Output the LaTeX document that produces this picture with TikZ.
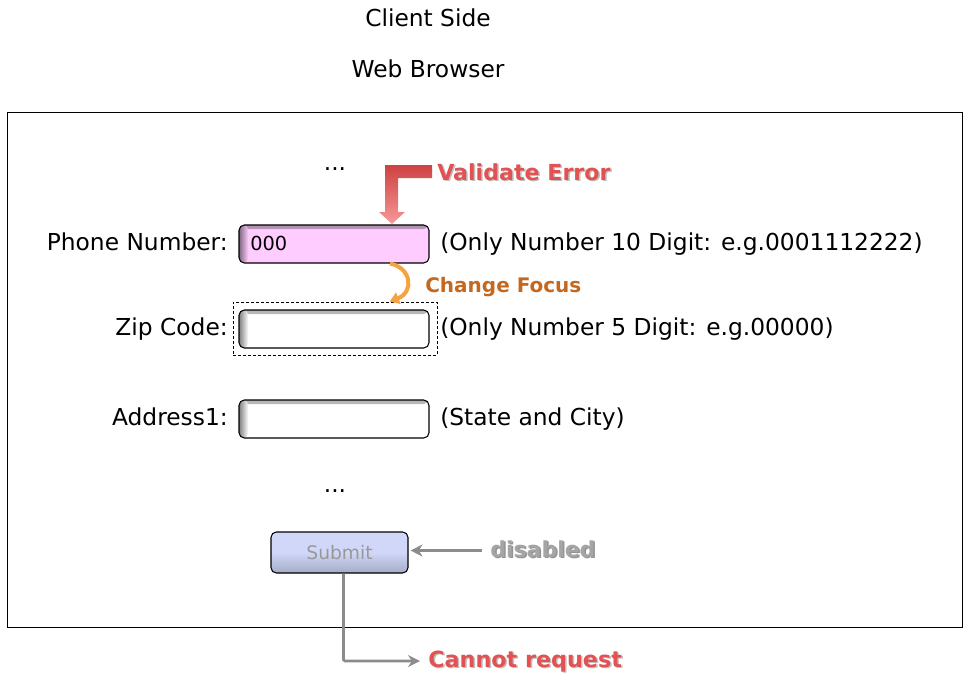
\documentclass[tikz,border=0pt]{standalone}
\usepackage{fontspec}
\setmainfont{DejaVu Sans}
\usetikzlibrary{arrows.meta,positioning}

\definecolor{errred}{RGB}{226,82,82}
\definecolor{errdark}{RGB}{206,66,66}
\definecolor{errlight}{RGB}{246,152,152}
\definecolor{focusbrown}{RGB}{196,104,32}
\definecolor{focusorange}{RGB}{245,162,64}
\definecolor{disgray}{RGB}{165,165,165}
\definecolor{pinkbox}{RGB}{255,204,255}
\definecolor{btntop}{RGB}{208,215,248}
\definecolor{btnbot}{RGB}{165,172,196}

\tikzset{
  lbl/.style={font=\fontsize{17.5}{20}\selectfont, inner sep=0pt},
  bold/.style={font=\fontsize{#1}{20}\selectfont\bfseries, inner sep=0pt},
  field/.style={draw=black, line width=.8pt, rounded corners=4pt, fill=#1,
    minimum width=142.5pt, minimum height=28.5pt,
    path picture={
      \shade[top color=black!30!#1, bottom color=#1]
        (path picture bounding box.north west) rectangle ([yshift=-3pt]path picture bounding box.north east);
      \shade[left color=black!50!#1, right color=#1]
        (path picture bounding box.south west) rectangle ([xshift=7pt]path picture bounding box.north west);}},
  field/.default=white,
  grayarr/.style={draw=disgray!85!black, line width=2pt, -{Stealth[length=9pt,width=9pt]}},
  txtshadow/.style={text=black!55, opacity=.45}
}

\begin{document}
\begin{tikzpicture}[x=0.75pt,y=-0.75pt]
\useasboundingbox (0,0) rectangle (969,685);
% header
\node[lbl, anchor=base] (client) at (428,27) {Client Side};
\node[lbl, anchor=base] (browser) at (428,78) {Web Browser};
\draw[line width=.75pt] (7,112) rectangle (962,627);
% form
\node[lbl, anchor=base] (dots1) at (335,170) {...};
\node[field=pinkbox] (phone) at (334,244) {};
\node[font=\fontsize{14.5}{16}\selectfont, inner sep=0pt, anchor=base west] (phoneval) at (250,250) {000};
\node[lbl, anchor=base east] (phonelbl) at (228,250) {Phone Number:};
\node[lbl, anchor=base west] (phonehint) at (440,250) {(Only Number 10 Digit: e.g.0001112222)};
\node[draw, dash pattern=on 2.25pt off 1.5pt, line width=.6pt,
      minimum width=153pt, minimum height=39.75pt] (zipsel) at (335,328.5) {};
\node[field] (zip) at (334,329) {};
\node[lbl, anchor=base east] (ziplbl) at (228,335) {Zip Code:};
\node[lbl, anchor=base west] (ziphint) at (440,335) {(Only Number 5 Digit: e.g.00000)};
\node[field] (addr) at (334,419) {};
\node[lbl, anchor=base east] (addrlbl) at (228,425) {Address1:};
\node[lbl, anchor=base west] (addrhint) at (440,425) {(State and City)};
\node[lbl, anchor=base] (dots2) at (335,492) {...};
\node[draw=black, line width=.8pt, rounded corners=4pt, top color=btntop, bottom color=btnbot,
      middle color=btntop, minimum width=102.75pt, minimum height=30.75pt,
      font=\fontsize{14}{16}\selectfont, text=black!40] (submit) at (339.5,552.5) {Submit};
% validate error
\shade[top color=errdark, bottom color=errlight]
  (432,165) -- (385,165) -- (385,212) -- (379,212) -- (392,224) -- (405,212)
  -- (398,212) -- (398,178) -- (432,178) -- cycle;
\node[bold=16.6, txtshadow, anchor=base west] (verrsh) at (438.5,181.5) {Validate Error};
\node[bold=16.6, text=errred, anchor=base west] (verr) at (437,180) {Validate Error};
% change focus
\draw[focusorange, line width=3pt, -{Triangle[length=7pt,width=9pt]}]
  ([xshift=42pt]phone.south) .. controls (412,268) and (414,292) .. ([xshift=41pt]zipsel.north);
\node[bold=15, text=focusbrown, anchor=base west] (focus) at (425,292) {Change Focus};
% disabled / cannot request
\node[bold=16.5, txtshadow, text=black!70, opacity=.6, anchor=base west] (dissh) at (491.5,558.5) {disabled};
\node[bold=16.5, text=disgray, anchor=base west] (dis) at (490,557) {disabled};
\draw[grayarr, shorten <=6pt, shorten >=1.5pt] ([yshift=1.5pt]dis.west |- submit.east) -- ([yshift=1.5pt]submit.east);
\node[bold=16.7, txtshadow, anchor=base west] (cannotsh) at (429.5,668.5) {Cannot request};
\node[bold=16.7, text=errred, anchor=base west] (cannot) at (428,667) {Cannot request};
\draw[grayarr, rounded corners=1pt, shorten >=6pt] ([xshift=3pt]submit.south) |- (cannot.west);
\end{tikzpicture}
\end{document}
